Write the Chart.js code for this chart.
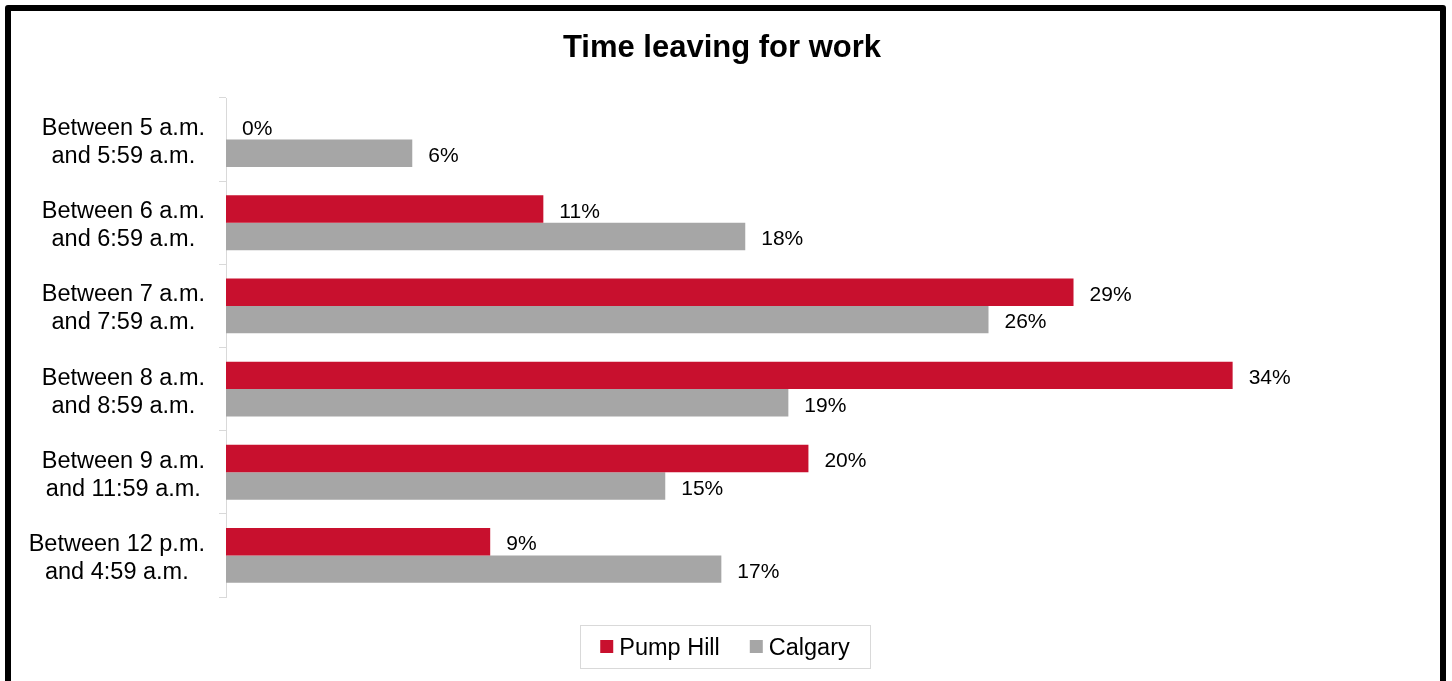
<!DOCTYPE html>
<html>
<head>
<meta charset="utf-8">
<script src="https://cdn.jsdelivr.net/npm/chart.js@4/dist/chart.umd.min.js"></script>
<style>
  html, body { margin: 0; padding: 0; background: #fff; overflow: hidden; }
  #wrap { position: relative; width: 1452px; height: 681px; }
  #c { position: absolute; left: 0; top: 0; }
  #frame { position: absolute; left: 5px; top: 5px; width: 1429px; height: 700px;
           border: 6px solid #000; border-radius: 3px; pointer-events: none; }
</style>
</head>
<body>
<div id="wrap">
  <canvas id="c" width="1452" height="681"></canvas>
  <div id="frame"></div>
</div>
<script>
const titleText = "Time leaving for work";
const categories = [
  ["Between 5 a.m.", "and 5:59 a.m."],
  ["Between 6 a.m.", "and 6:59 a.m."],
  ["Between 7 a.m.", "and 7:59 a.m."],
  ["Between 8 a.m.", "and 8:59 a.m."],
  ["Between 9 a.m.", "and 11:59 a.m."],
  ["Between 12 p.m.", "and 4:59 a.m."]
];
const pumpHill = [0, 10.75, 28.71, 34.10, 19.73, 8.95];
const calgary  = [6.31, 17.59, 25.83, 19.05, 14.88, 16.78];
const seriesNames = ["Pump Hill", "Calgary"];
const seriesColors = ["#C8102E", "#A6A6A6"];
const FONT = "'Liberation Sans', Arial, sans-serif";

const labelsPlugin = {
  id: 'customDraw',
  afterDatasetsDraw(chart) {
    const ctx = chart.ctx;
    // title
    ctx.save();
    ctx.font = "bold 31px " + FONT;
    ctx.fillStyle = "#000";
    ctx.textAlign = "center";
    ctx.textBaseline = "middle";
    ctx.fillText(titleText, 722, 48);
    ctx.restore();

    // data labels
    ctx.save();
    ctx.font = "21px " + FONT;
    ctx.fillStyle = "#000";
    ctx.textAlign = "left";
    ctx.textBaseline = "middle";
    chart.data.datasets.forEach((ds, di) => {
      const meta = chart.getDatasetMeta(di);
      meta.data.forEach((bar, i) => {
        const v = ds.data[i];
        ctx.fillText(Math.round(v) + "%", bar.x + 16, bar.y + 3);
      });
    });
    ctx.restore();

    // category labels
    const ys = chart.scales.y;
    ctx.save();
    ctx.font = "23.5px " + FONT;
    ctx.fillStyle = "#000";
    ctx.textAlign = "center";
    ctx.textBaseline = "middle";
    chart.data.labels.forEach((lab, i) => {
      const y = ys.getPixelForValue(i);
      const lines = Array.isArray(lab) ? lab : [lab];
      const w = Math.max(...lines.map(l => ctx.measureText(l).width));
      const cx = 205 - w / 2;
      const lh = 28;
      const y0 = y - (lines.length - 1) * lh / 2;
      lines.forEach((l, k) => ctx.fillText(l, cx, y0 + k * lh + 3));
    });
    ctx.restore();

    // legend
    ctx.save();
    ctx.font = "23.5px " + FONT;
    const legTop = 625, legH = 43;
    const items = chart.data.datasets.map(d => ({ text: d.label, color: d.backgroundColor }));
    const box = 13, gapBT = 6, gapItems = 30, padX = 24;
    let totalW = 0;
    items.forEach((it, k) => {
      it.w = ctx.measureText(it.text).width;
      totalW += box + gapBT + it.w + (k ? gapItems : 0);
    });
    const boxW = 290;
    const left = 580;
    ctx.strokeStyle = "#D9D9D9";
    ctx.lineWidth = 1;
    ctx.strokeRect(left + 0.5, legTop + 0.5, boxW, legH);
    let x = left + (boxW - totalW) / 2;
    const cy = legTop + legH / 2;
    ctx.textBaseline = "middle";
    ctx.textAlign = "left";
    items.forEach((it, k) => {
      if (k) x += gapItems;
      ctx.fillStyle = it.color;
      ctx.fillRect(x, cy - box / 2, box, box);
      x += box + gapBT;
      ctx.fillStyle = "#000";
      ctx.fillText(it.text, x, cy + 2);
      x += it.w;
    });
    ctx.restore();
  }
};

new Chart(document.getElementById('c'), {
  type: 'bar',
  data: {
    labels: categories,
    datasets: [
      { label: seriesNames[0], data: pumpHill, backgroundColor: seriesColors[0] },
      { label: seriesNames[1], data: calgary, backgroundColor: seriesColors[1] }
    ]
  },
  options: {
    indexAxis: 'y',
    responsive: false,
    animation: false,
    events: [],
    layout: { padding: { left: 0, right: 119, top: 98, bottom: 84 } },
    datasets: { bar: { categoryPercentage: 0.66, barPercentage: 1.0 } },
    scales: {
      x: { display: false, min: 0, max: 37.5 },
      y: {
        afterFit(scale) { scale.width = 226; },
        ticks: { display: false },
        grid: { offset: true, drawOnChartArea: false, tickLength: 7, color: '#D9D9D9', lineWidth: 1 },
        border: { display: true, color: '#D9D9D9', width: 1 }
      }
    },
    plugins: {
      legend: { display: false },
      tooltip: { enabled: false },
      title: { display: false }
    }
  },
  plugins: [labelsPlugin]
});
</script>
</body>
</html>
